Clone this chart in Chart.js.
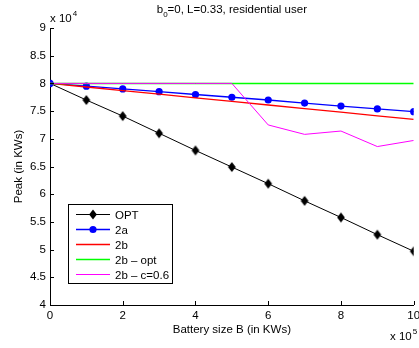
<!DOCTYPE html>
<html>
<head>
<meta charset="utf-8">
<script src="https://cdn.jsdelivr.net/npm/chart.js@4"></script>
<style>
  html, body { margin: 0; padding: 0; background: #fff; }
  #wrap { width: 419px; height: 348px; position: relative; }
</style>
</head>
<body>
<div id="wrap"><canvas id="chart"></canvas></div>
<script>
// battery size B, in units of 1e5 KWs
const batterySizes = [0, 1, 2, 3, 4, 5, 6, 7, 8, 9, 10];
// peak, in units of 1e4 KWs
const peakOpt = [8.0, 7.70, 7.41, 7.10, 6.79, 6.49, 6.19, 5.88, 5.58, 5.27, 4.97];
const peak2a = [8.0, 7.95, 7.90, 7.85, 7.80, 7.75, 7.70, 7.645, 7.59, 7.54, 7.49];
const peak2b = [8.0, 7.935, 7.87, 7.805, 7.74, 7.675, 7.61, 7.545, 7.48, 7.415, 7.35];
const peak2bOpt = [8.0, 8.0, 8.0, 8.0, 8.0, 8.0, 8.0, 8.0, 8.0, 8.0, 8.0];
const peak2bC06 = [8.0, 8.0, 8.0, 8.0, 8.0, 8.0, 7.25, 7.08, 7.14, 6.86, 6.97];

const seriesNames = ['OPT', '2a', '2b', '2b \u2013 opt', '2b \u2013 c=0.6'];
const yTicks = [4, 4.5, 5, 5.5, 6, 6.5, 7, 7.5, 8, 8.5, 9];
const xTicks = [0, 2, 4, 6, 8, 10];

const FONT = 'Liberation Sans, Arial, Helvetica, sans-serif';
const TXT = '11.5px ' + FONT;
const SUP = '8px ' + FONT;

function pts(ys) {
    return batterySizes.map((x, i) => ({ x: x, y: ys[i] }));
}

// matlab diamond: a bit taller than wide
function diamondPath(g, cx, cy, r) {
    g.beginPath();
    g.moveTo(cx, cy - r * 1.15);
    g.lineTo(cx + r * 0.9, cy);
    g.lineTo(cx, cy + r * 1.15);
    g.lineTo(cx - r * 0.9, cy);
    g.closePath();
}

function diamond(r) {
    const c = document.createElement('canvas');
    const w = Math.ceil(r * 1.8 + 2), h = Math.ceil(r * 2.3 + 2);
    c.width = w; c.height = h;
    const g = c.getContext('2d');
    g.fillStyle = '#000';
    diamondPath(g, w / 2, h / 2, r);
    g.fill();
    return c;
}

// ticks inside the axes, titles, exponents and the boxed legend (matlab style)
const matlabDecor = {
    id: 'matlabDecor',
    afterDraw(chart) {
        const ctx = chart.ctx;
        const xs = chart.scales.x;
        const ys = chart.scales.y;
        const area = chart.chartArea;
        ctx.save();
        ctx.strokeStyle = '#000';
        ctx.lineWidth = 1;
        ctx.beginPath();
        yTicks.forEach(v => {
            const py = Math.round(ys.getPixelForValue(v)) + 0.5;
            ctx.moveTo(area.left, py);
            ctx.lineTo(area.left + 4, py);
        });
        xTicks.forEach(v => {
            const px = Math.round(xs.getPixelForValue(v)) + 0.5;
            ctx.moveTo(px, area.bottom);
            ctx.lineTo(px, area.bottom - 4);
        });
        ctx.stroke();

        ctx.fillStyle = '#000';
        ctx.textBaseline = 'alphabetic';

        // title with subscript
        const t1 = 'b', t2 = '0', t3 = '=0, L=0.33, residential user';
        ctx.font = TXT;
        const w1 = ctx.measureText(t1).width;
        const w3 = ctx.measureText(t3).width;
        ctx.font = SUP;
        const w2 = ctx.measureText(t2).width;
        let tx = (area.left + area.right) / 2 - (w1 + w2 + w3) / 2;
        ctx.textAlign = 'left';
        ctx.font = TXT;
        ctx.fillText(t1, tx, 13);
        ctx.font = SUP;
        ctx.fillText(t2, tx + w1, 17);
        ctx.font = TXT;
        ctx.fillText(t3, tx + w1 + w2, 13);

        // exponent labels
        ctx.fillText('x 10', area.left, 22);
        let w = ctx.measureText('x 10').width;
        ctx.font = SUP;
        ctx.fillText('4', area.left + w + 1, 16);
        ctx.font = TXT;
        ctx.fillText('x 10', 390, 340);
        w = ctx.measureText('x 10').width;
        ctx.font = SUP;
        ctx.fillText('5', 390 + w + 1, 334);

        // axis titles
        ctx.font = TXT;
        ctx.textAlign = 'center';
        ctx.fillText('Battery size B (in KWs)', (area.left + area.right) / 2, 333);
        ctx.save();
        ctx.translate(22, (area.top + area.bottom) / 2);
        ctx.rotate(-Math.PI / 2);
        ctx.fillText('Peak (in KWs)', 0, 0);
        ctx.restore();

        // legend
        const lx = 68.5, ly = 204.5, lw = 104, lh = 79;
        ctx.fillStyle = '#fff';
        ctx.fillRect(lx, ly, lw, lh);
        ctx.strokeStyle = '#000';
        ctx.lineWidth = 1;
        ctx.strokeRect(lx, ly, lw, lh);
        chart.data.datasets.forEach((ds, i) => {
            const y = 214.5 + i * 15;
            ctx.strokeStyle = ds.borderColor;
            ctx.lineWidth = ds.borderWidth;
            ctx.beginPath();
            ctx.moveTo(76, y);
            ctx.lineTo(110, y);
            ctx.stroke();
            if (ds.pointRadius > 0) {
                ctx.fillStyle = ds.pointBackgroundColor;
                if (ds.pointStyle instanceof HTMLCanvasElement) {
                    diamondPath(ctx, 93, y, ds.pointRadius);
                } else {
                    ctx.beginPath();
                    ctx.arc(93, y, ds.pointRadius, 0, Math.PI * 2);
                }
                ctx.fill();
            }
            ctx.fillStyle = '#000';
            ctx.textAlign = 'left';
            ctx.font = TXT;
            ctx.fillText(seriesNames[i], 115, y + 4);
        });
        ctx.restore();
    }
};

const ctx = document.getElementById('chart').getContext('2d');
new Chart(ctx, {
    type: 'line',
    data: {
        datasets: [{
            label: seriesNames[0],
            data: pts(peakOpt),
            borderColor: '#000000',
            borderWidth: 1,
            pointStyle: diamond(4.3),
            pointRadius: 4.3,
            pointBackgroundColor: '#000000',
            order: 5
        }, {
            label: seriesNames[1],
            data: pts(peak2a),
            borderColor: '#0000ff',
            borderWidth: 1.3,
            pointStyle: 'circle',
            pointRadius: 3.6,
            pointBackgroundColor: '#0000ff',
            pointBorderWidth: 0,
            order: 4
        }, {
            label: seriesNames[2],
            data: pts(peak2b),
            borderColor: '#ff0000',
            borderWidth: 1.3,
            pointRadius: 0,
            order: 3
        }, {
            label: seriesNames[3],
            data: pts(peak2bOpt),
            borderColor: '#00ff00',
            borderWidth: 1.5,
            pointRadius: 0,
            order: 2
        }, {
            label: seriesNames[4],
            data: pts(peak2bC06),
            borderColor: '#ff00ff',
            borderWidth: 1,
            pointRadius: 0,
            order: 1
        }]
    },
    options: {
        responsive: true,
        maintainAspectRatio: false,
        animation: false,
        events: [],
        layout: { padding: { left: 0, right: 3, top: 28, bottom: 0 } },
        plugins: {
            legend: { display: false },
            title: { display: false },
            tooltip: { enabled: false }
        },
        scales: {
            x: {
                type: 'linear',
                min: 0,
                max: 10,
                grid: { display: false, drawTicks: false },
                border: { display: true, color: '#000', width: 1 },
                ticks: {
                    stepSize: 2,
                    padding: 4,
                    color: '#000',
                    maxRotation: 0,
                    font: { family: FONT, size: 11.5 }
                },
                afterFit: (s) => { s.height = 43; s.paddingLeft = 0; s.paddingRight = 0; }
            },
            y: {
                min: 4,
                max: 9,
                grid: { display: false, drawTicks: false },
                border: { display: true, color: '#000', width: 1 },
                ticks: {
                    stepSize: 0.5,
                    padding: 4,
                    color: '#000',
                    font: { family: FONT, size: 11.5 },
                    callback: (v) => String(v)
                },
                afterFit: (s) => { s.width = 50; }
            }
        }
    },
    plugins: [matlabDecor]
});
</script>
</body>
</html>
